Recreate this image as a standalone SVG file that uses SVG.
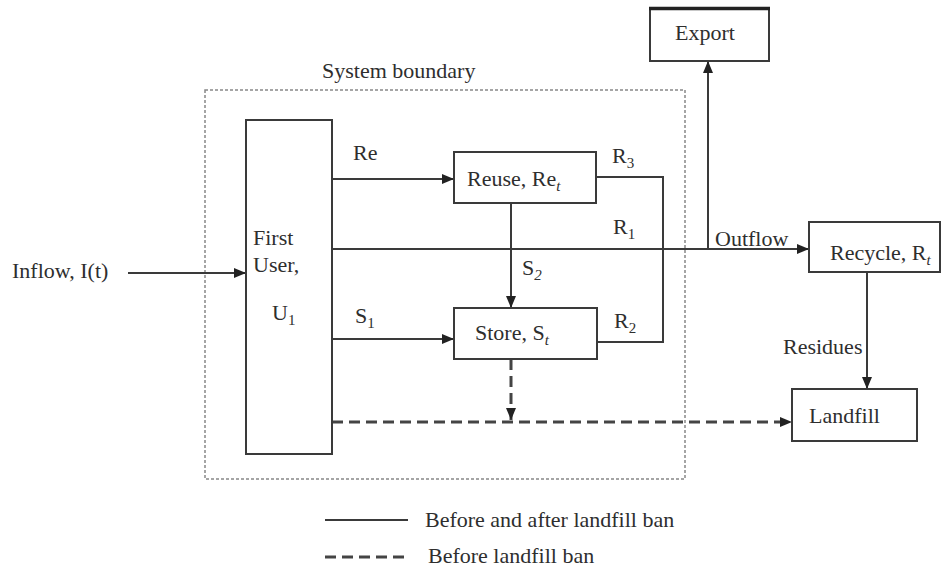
<svg xmlns="http://www.w3.org/2000/svg" width="943" height="567" viewBox="0 0 943 567" font-family="'Liberation Serif', 'Times New Roman', 'DejaVu Serif', serif">
<defs>
<marker id="ah" markerWidth="12" markerHeight="10" refX="12" refY="5" orient="auto" markerUnits="userSpaceOnUse">
<path d="M0,0 L12,5 L0,10 Z" fill="#222"/>
</marker>
<style>
text{font-family:'Liberation Serif','Times New Roman','DejaVu Serif',serif;font-size:22px;fill:#2e2e2e}
.sub{font-size:15px}
.box{fill:#fff;stroke:#3a3a3a;stroke-width:2}
.ln{fill:none;stroke:#3a3a3a;stroke-width:2}
.dl{fill:none;stroke:#444;stroke-width:3;stroke-dasharray:11 6}
.bd{fill:none;stroke:#888;stroke-width:1.5;stroke-dasharray:3 2}
</style>
</defs>
<rect width="943" height="567" fill="#fff"/>

<g id="system-boundary">
<rect class="bd" x="205" y="90" width="480" height="389"/>
<text x="322" y="78">System boundary</text>
</g>

<g id="connectors">
<line class="ln" x1="128" y1="273" x2="246" y2="273" marker-end="url(#ah)"/>
<line class="ln" x1="332" y1="179" x2="454" y2="179" marker-end="url(#ah)"/>
<line class="ln" x1="332" y1="339" x2="454" y2="339" marker-end="url(#ah)"/>
<line class="ln" x1="332" y1="249" x2="809" y2="249" marker-end="url(#ah)"/>
<line class="ln" x1="511" y1="203" x2="511" y2="308" marker-end="url(#ah)"/>
<polyline class="ln" points="596,177 663,177 663,342 597,342"/>
<line class="ln" x1="708" y1="249" x2="708" y2="61" marker-end="url(#ah)"/>
<line class="ln" x1="867" y1="272" x2="867" y2="389" marker-end="url(#ah)"/>
<line class="dl" x1="332" y1="422" x2="792" y2="422" marker-end="url(#ah)"/>
<line class="dl" x1="511" y1="359" x2="511" y2="420" marker-end="url(#ah)"/>
<text x="353" y="160">Re</text>
<text x="355" y="323">S<tspan class="sub" dy="5">1</tspan></text>
<text x="522" y="275">S<tspan class="sub" dy="5" font-style="italic">2</tspan></text>
<text x="612" y="163">R<tspan class="sub" dy="5">3</tspan></text>
<text x="613" y="234">R<tspan class="sub" dy="5">1</tspan></text>
<text x="614" y="328">R<tspan class="sub" dy="5">2</tspan></text>
<text x="715" y="246">Outflow</text>
<text x="783" y="354">Residues</text>
<text x="12" y="278">Inflow, I(t)</text>
</g>

<g id="first-user">
<rect class="box" x="246" y="120" width="86" height="334"/>
<text x="253" y="245">First</text>
<text x="253" y="272">User,</text>
<text x="272" y="320">U<tspan class="sub" dy="5">1</tspan></text>
</g>

<g id="reuse">
<rect class="box" x="454" y="152" width="142" height="51"/>
<text x="467" y="186">Reuse, Re<tspan class="sub" dy="5" font-style="italic">t</tspan></text>
</g>

<g id="store">
<rect class="box" x="454" y="308" width="143" height="51"/>
<text x="475" y="340">Store, S<tspan class="sub" dy="5" font-style="italic">t</tspan></text>
</g>

<g id="export">
<rect class="box" x="650" y="8" width="119" height="53"/>
<line x1="649" y1="8.5" x2="770" y2="8.5" stroke="#222" stroke-width="3.5"/>
<text x="675" y="40">Export</text>
</g>

<g id="recycle">
<rect class="box" x="809" y="222" width="131" height="50"/>
<text x="830" y="260">Recycle, R<tspan class="sub" dy="5" font-style="italic">t</tspan></text>
</g>

<g id="landfill">
<rect class="box" x="792" y="389" width="125" height="52"/>
<text x="809" y="423">Landfill</text>
</g>

<g id="legend">
<line class="ln" x1="325" y1="520" x2="408" y2="520"/>
<text x="425" y="527">Before and after landfill ban</text>
<line class="dl" x1="325" y1="557" x2="408" y2="557" stroke-dasharray="10 7"/>
<text x="428" y="563">Before landfill ban</text>
</g>
</svg>
